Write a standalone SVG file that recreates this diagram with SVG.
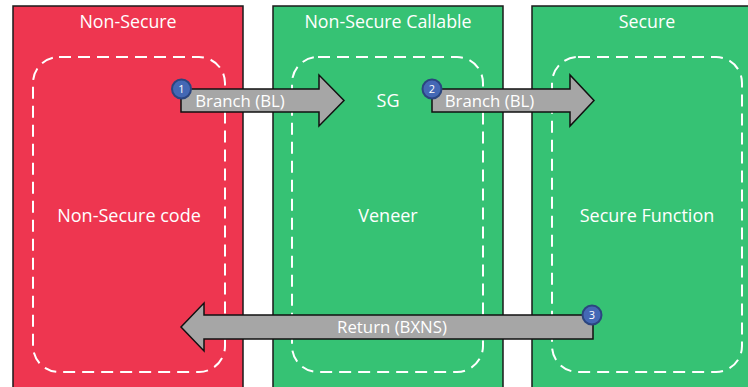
<svg xmlns="http://www.w3.org/2000/svg" width="748" height="387" viewBox="0 0 748 387">
  <style>
    .panel { stroke: #1a1a1a; stroke-width: 1.5; }
    .ns { fill: #EE3650; }
    .sec { fill: #36C274; }
    .inner { fill: none; stroke: #ffffff; stroke-width: 2; stroke-dasharray: 12 7; }
    .t { font-family: "Open Sans", "Noto Sans", "Liberation Sans", sans-serif; fill: #ffffff; text-anchor: middle; }
    .title { font-size: 17.8px; }
    .label { font-size: 18px; }
    .alabel { font-size: 16.8px; }
    .arrow { fill: #A6A6A6; stroke: #111111; stroke-width: 1.5; stroke-linejoin: miter; }
    .badge { fill: #4468B5; stroke: #2B457F; stroke-width: 2; }
    .num { font-family: "Open Sans", "Noto Sans", "Liberation Sans", sans-serif; font-size: 11px; fill: #ffffff; text-anchor: middle; }
  </style>

  <rect width="748" height="387" fill="#ffffff"/>

  <g id="non-secure">
    <rect class="panel ns" x="13" y="6" width="230" height="390"/>
    <text class="t title" x="128" y="28">Non-Secure</text>
    <rect class="inner" x="33" y="57" width="192" height="315" rx="26"/>
    <text class="t label" x="129" y="222">Non-Secure code</text>
  </g>

  <g id="non-secure-callable">
    <rect class="panel sec" x="273" y="6" width="230" height="390"/>
    <text class="t title" x="388" y="28">Non-Secure Callable</text>
    <rect class="inner" x="292" y="57" width="191" height="315" rx="26"/>
    <text class="t label" x="388" y="107">SG</text>
    <text class="t label" x="388" y="222">Veneer</text>
  </g>

  <g id="secure">
    <rect class="panel sec" x="532" y="6" width="230" height="390"/>
    <text class="t title" x="647" y="28">Secure</text>
    <rect class="inner" x="552" y="57" width="190" height="315" rx="26"/>
    <text class="t label" x="647" y="222">Secure Function</text>
  </g>

  <g id="connectors">
    <g id="branch-1">
      <path class="arrow" d="M181,89 H319 V75 L344,100.5 L319,126 V112 H181 Z"/>
      <text class="t alabel" x="240" y="107">Branch (BL)</text>
      <circle class="badge" cx="181.5" cy="89" r="9.5"/>
      <text class="num" x="181.5" y="93">1</text>
    </g>
    <g id="branch-2">
      <path class="arrow" d="M432,89 H570 V75 L594,100.5 L570,126 V112 H432 Z"/>
      <text class="t alabel" x="489.5" y="107">Branch (BL)</text>
      <circle class="badge" cx="432" cy="89" r="9.5"/>
      <text class="num" x="432" y="93">2</text>
    </g>
    <g id="return-3">
      <path class="arrow" d="M593,315 H204 V303 L181,327 L204,351 V339 H593 Z"/>
      <text class="t alabel" x="392" y="333">Return (BXNS)</text>
      <circle class="badge" cx="592" cy="315" r="9.5"/>
      <text class="num" x="592" y="319">3</text>
    </g>
  </g>
</svg>
